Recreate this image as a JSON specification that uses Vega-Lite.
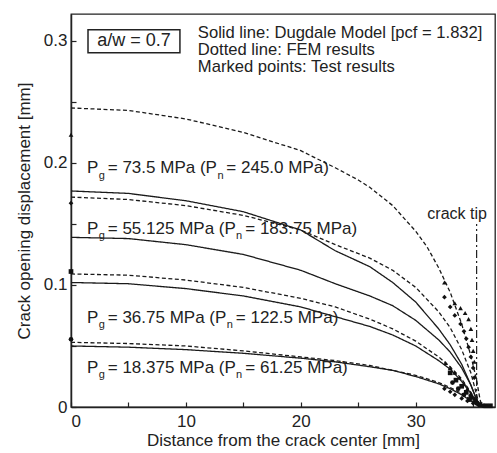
{
  "$schema": "https://vega.github.io/schema/vega-lite/v6.json",
  "width": 424,
  "height": 393,
  "autosize": {"type": "none"},
  "padding": {"left": 71, "top": 14, "right": 2, "bottom": 46},
  "background": "white",
  "view": {"stroke": "#222", "strokeWidth": 1.3},
  "config": {
    "font": "Liberation Sans",
    "axis": {
      "grid": false,
      "domainColor": "#222",
      "domainWidth": 1.5,
      "tickColor": "#222",
      "tickWidth": 1.2,
      "labelColor": "#222",
      "labelFont": "Liberation Sans",
      "labelFontSize": 17,
      "titleFont": "Liberation Sans",
      "titleFontSize": 17,
      "titleFontWeight": "normal",
      "titleColor": "#222"
    }
  },
  "datasets": {
    "curves": [
      {"s": "F73", "k": "dashed", "x": 0, "y": 0.245}, {"s": "F73", "k": "dashed", "x": 5, "y": 0.243}, {"s": "F73", "k": "dashed", "x": 10, "y": 0.236}, {"s": "F73", "k": "dashed", "x": 15, "y": 0.225}, {"s": "F73", "k": "dashed", "x": 20, "y": 0.21}, {"s": "F73", "k": "dashed", "x": 23, "y": 0.196}, {"s": "F73", "k": "dashed", "x": 25, "y": 0.186}, {"s": "F73", "k": "dashed", "x": 26, "y": 0.18}, {"s": "F73", "k": "dashed", "x": 28, "y": 0.165}, {"s": "F73", "k": "dashed", "x": 30, "y": 0.144}, {"s": "F73", "k": "dashed", "x": 31, "y": 0.131}, {"s": "F73", "k": "dashed", "x": 32, "y": 0.114}, {"s": "F73", "k": "dashed", "x": 33, "y": 0.094}, {"s": "F73", "k": "dashed", "x": 34, "y": 0.068}, {"s": "F73", "k": "dashed", "x": 34.8, "y": 0.042}, {"s": "F73", "k": "dashed", "x": 35.3, "y": 0.022}, {"s": "F73", "k": "dashed", "x": 35.6, "y": 0.006}, {"s": "F73", "k": "dashed", "x": 35.8, "y": 0},
      {"s": "D73", "k": "solid", "x": 0, "y": 0.177}, {"s": "D73", "k": "solid", "x": 5, "y": 0.175}, {"s": "D73", "k": "solid", "x": 10, "y": 0.169}, {"s": "D73", "k": "solid", "x": 15, "y": 0.16}, {"s": "D73", "k": "solid", "x": 20, "y": 0.145}, {"s": "D73", "k": "solid", "x": 23, "y": 0.128}, {"s": "D73", "k": "solid", "x": 26, "y": 0.115}, {"s": "D73", "k": "solid", "x": 28, "y": 0.102}, {"s": "D73", "k": "solid", "x": 30, "y": 0.086}, {"s": "D73", "k": "solid", "x": 32, "y": 0.064}, {"s": "D73", "k": "solid", "x": 33, "y": 0.051}, {"s": "D73", "k": "solid", "x": 34, "y": 0.035}, {"s": "D73", "k": "solid", "x": 34.8, "y": 0.018}, {"s": "D73", "k": "solid", "x": 35.3, "y": 0.006}, {"s": "D73", "k": "solid", "x": 35.6, "y": 0},
      {"s": "F55", "k": "dashed", "x": 0, "y": 0.172}, {"s": "F55", "k": "dashed", "x": 5, "y": 0.17}, {"s": "F55", "k": "dashed", "x": 10, "y": 0.165}, {"s": "F55", "k": "dashed", "x": 15, "y": 0.157}, {"s": "F55", "k": "dashed", "x": 20, "y": 0.145}, {"s": "F55", "k": "dashed", "x": 23, "y": 0.133}, {"s": "F55", "k": "dashed", "x": 26, "y": 0.122}, {"s": "F55", "k": "dashed", "x": 28, "y": 0.112}, {"s": "F55", "k": "dashed", "x": 30, "y": 0.098}, {"s": "F55", "k": "dashed", "x": 32, "y": 0.078}, {"s": "F55", "k": "dashed", "x": 33, "y": 0.065}, {"s": "F55", "k": "dashed", "x": 34, "y": 0.047}, {"s": "F55", "k": "dashed", "x": 34.8, "y": 0.028}, {"s": "F55", "k": "dashed", "x": 35.3, "y": 0.01}, {"s": "F55", "k": "dashed", "x": 35.6, "y": 0},
      {"s": "D55", "k": "solid", "x": 0, "y": 0.139}, {"s": "D55", "k": "solid", "x": 5, "y": 0.138}, {"s": "D55", "k": "solid", "x": 10, "y": 0.133}, {"s": "D55", "k": "solid", "x": 15, "y": 0.125}, {"s": "D55", "k": "solid", "x": 20, "y": 0.112}, {"s": "D55", "k": "solid", "x": 23, "y": 0.101}, {"s": "D55", "k": "solid", "x": 26, "y": 0.091}, {"s": "D55", "k": "solid", "x": 28, "y": 0.083}, {"s": "D55", "k": "solid", "x": 30, "y": 0.071}, {"s": "D55", "k": "solid", "x": 32, "y": 0.055}, {"s": "D55", "k": "solid", "x": 33, "y": 0.045}, {"s": "D55", "k": "solid", "x": 34, "y": 0.032}, {"s": "D55", "k": "solid", "x": 34.8, "y": 0.018}, {"s": "D55", "k": "solid", "x": 35.3, "y": 0.006}, {"s": "D55", "k": "solid", "x": 35.6, "y": 0},
      {"s": "F37", "k": "dashed", "x": 0, "y": 0.109}, {"s": "F37", "k": "dashed", "x": 5, "y": 0.108}, {"s": "F37", "k": "dashed", "x": 10, "y": 0.104}, {"s": "F37", "k": "dashed", "x": 15, "y": 0.098}, {"s": "F37", "k": "dashed", "x": 20, "y": 0.089}, {"s": "F37", "k": "dashed", "x": 23, "y": 0.082}, {"s": "F37", "k": "dashed", "x": 26, "y": 0.072}, {"s": "F37", "k": "dashed", "x": 28, "y": 0.064}, {"s": "F37", "k": "dashed", "x": 30, "y": 0.054}, {"s": "F37", "k": "dashed", "x": 32, "y": 0.041}, {"s": "F37", "k": "dashed", "x": 33, "y": 0.033}, {"s": "F37", "k": "dashed", "x": 34, "y": 0.023}, {"s": "F37", "k": "dashed", "x": 34.8, "y": 0.012}, {"s": "F37", "k": "dashed", "x": 35.3, "y": 0.004}, {"s": "F37", "k": "dashed", "x": 35.6, "y": 0},
      {"s": "D37", "k": "solid", "x": 0, "y": 0.102}, {"s": "D37", "k": "solid", "x": 5, "y": 0.101}, {"s": "D37", "k": "solid", "x": 10, "y": 0.097}, {"s": "D37", "k": "solid", "x": 15, "y": 0.091}, {"s": "D37", "k": "solid", "x": 20, "y": 0.082}, {"s": "D37", "k": "solid", "x": 23, "y": 0.074}, {"s": "D37", "k": "solid", "x": 26, "y": 0.066}, {"s": "D37", "k": "solid", "x": 28, "y": 0.059}, {"s": "D37", "k": "solid", "x": 30, "y": 0.05}, {"s": "D37", "k": "solid", "x": 32, "y": 0.038}, {"s": "D37", "k": "solid", "x": 33, "y": 0.031}, {"s": "D37", "k": "solid", "x": 34, "y": 0.021}, {"s": "D37", "k": "solid", "x": 34.8, "y": 0.011}, {"s": "D37", "k": "solid", "x": 35.3, "y": 0.004}, {"s": "D37", "k": "solid", "x": 35.6, "y": 0},
      {"s": "F18", "k": "dashed", "x": 0, "y": 0.053}, {"s": "F18", "k": "dashed", "x": 5, "y": 0.052}, {"s": "F18", "k": "dashed", "x": 10, "y": 0.05}, {"s": "F18", "k": "dashed", "x": 15, "y": 0.046}, {"s": "F18", "k": "dashed", "x": 20, "y": 0.041}, {"s": "F18", "k": "dashed", "x": 23, "y": 0.038}, {"s": "F18", "k": "dashed", "x": 26, "y": 0.034}, {"s": "F18", "k": "dashed", "x": 28, "y": 0.03}, {"s": "F18", "k": "dashed", "x": 30, "y": 0.026}, {"s": "F18", "k": "dashed", "x": 32, "y": 0.02}, {"s": "F18", "k": "dashed", "x": 33, "y": 0.016}, {"s": "F18", "k": "dashed", "x": 34, "y": 0.011}, {"s": "F18", "k": "dashed", "x": 34.8, "y": 0.006}, {"s": "F18", "k": "dashed", "x": 35.3, "y": 0.002}, {"s": "F18", "k": "dashed", "x": 35.6, "y": 0},
      {"s": "D18", "k": "solid", "x": 0, "y": 0.05}, {"s": "D18", "k": "solid", "x": 5, "y": 0.049}, {"s": "D18", "k": "solid", "x": 10, "y": 0.047}, {"s": "D18", "k": "solid", "x": 15, "y": 0.044}, {"s": "D18", "k": "solid", "x": 20, "y": 0.04}, {"s": "D18", "k": "solid", "x": 23, "y": 0.037}, {"s": "D18", "k": "solid", "x": 26, "y": 0.033}, {"s": "D18", "k": "solid", "x": 28, "y": 0.03}, {"s": "D18", "k": "solid", "x": 30, "y": 0.025}, {"s": "D18", "k": "solid", "x": 32, "y": 0.019}, {"s": "D18", "k": "solid", "x": 33, "y": 0.015}, {"s": "D18", "k": "solid", "x": 34, "y": 0.01}, {"s": "D18", "k": "solid", "x": 34.8, "y": 0.005}, {"s": "D18", "k": "solid", "x": 35.3, "y": 0.002}, {"s": "D18", "k": "solid", "x": 35.6, "y": 0}
    ],
    "points": [
      {"m": "tri", "x": 0, "y": 0.223}, {"m": "tri", "x": 32.5, "y": 0.102}, {"m": "tri", "x": 33.4, "y": 0.085}, {"m": "tri", "x": 33.9, "y": 0.081}, {"m": "tri", "x": 34.3, "y": 0.077}, {"m": "tri", "x": 34.6, "y": 0.072}, {"m": "tri", "x": 34.8, "y": 0.064}, {"m": "tri", "x": 34.9, "y": 0.055}, {"m": "tri", "x": 35.0, "y": 0.046}, {"m": "tri", "x": 35.1, "y": 0.037}, {"m": "tri", "x": 32.6, "y": 0.036}, {"m": "tri", "x": 33.0, "y": 0.032}, {"m": "tri", "x": 33.4, "y": 0.028}, {"m": "tri", "x": 33.8, "y": 0.024}, {"m": "tri", "x": 34.2, "y": 0.019}, {"m": "tri", "x": 34.5, "y": 0.015}, {"m": "tri", "x": 34.8, "y": 0.011}, {"m": "tri", "x": 35.1, "y": 0.007}, {"m": "tri", "x": 35.4, "y": 0.004}, {"m": "tri", "x": 35.7, "y": 0.002}, {"m": "tri", "x": 36.0, "y": 0.001}, {"m": "tri", "x": 36.3, "y": 0.001},
      {"m": "dia", "x": 0, "y": 0.167}, {"m": "dia", "x": 32.5, "y": 0.09}, {"m": "dia", "x": 33.0, "y": 0.082}, {"m": "dia", "x": 33.4, "y": 0.075}, {"m": "dia", "x": 33.9, "y": 0.068}, {"m": "dia", "x": 34.2, "y": 0.062}, {"m": "dia", "x": 34.4, "y": 0.056}, {"m": "dia", "x": 34.6, "y": 0.049}, {"m": "dia", "x": 34.8, "y": 0.041}, {"m": "dia", "x": 35.0, "y": 0.032}, {"m": "dia", "x": 35.1, "y": 0.024}, {"m": "dia", "x": 32.5, "y": 0.015}, {"m": "dia", "x": 33.0, "y": 0.0125}, {"m": "dia", "x": 33.4, "y": 0.01}, {"m": "dia", "x": 34.0, "y": 0.007}, {"m": "dia", "x": 34.5, "y": 0.005}, {"m": "dia", "x": 35.0, "y": 0.003}, {"m": "dia", "x": 35.5, "y": 0.0015},
      {"m": "sq", "x": 0, "y": 0.111}, {"m": "sq", "x": 33.0, "y": 0.028}, {"m": "sq", "x": 33.5, "y": 0.022}, {"m": "sq", "x": 34.0, "y": 0.017}, {"m": "sq", "x": 34.4, "y": 0.012}, {"m": "sq", "x": 34.8, "y": 0.008}, {"m": "sq", "x": 35.2, "y": 0.005}, {"m": "sq", "x": 35.6, "y": 0.002}, {"m": "sq", "x": 36.1, "y": 0.001}, {"m": "sq", "x": 36.5, "y": 0.001},
      {"m": "dot", "x": 0, "y": 0.0555}, {"m": "dot", "x": 33.2, "y": 0.02}, {"m": "dot", "x": 33.7, "y": 0.015}, {"m": "dot", "x": 34.2, "y": 0.01}, {"m": "dot", "x": 34.7, "y": 0.006}, {"m": "dot", "x": 35.3, "y": 0.003}, {"m": "dot", "x": 35.9, "y": 0.001}
    ],
    "labels": [
      {"t": "P\u00a0\u00a0= 73.5 MPa (P\u00a0\u00a0= 245.0 MPa)", "x": 1.39, "y": 0.1914},
      {"t": "P\u00a0\u00a0= 55.125 MPa (P\u00a0\u00a0= 183.75 MPa)", "x": 1.39, "y": 0.1418},
      {"t": "P\u00a0\u00a0= 36.75 MPa (P\u00a0\u00a0= 122.5 MPa)", "x": 1.39, "y": 0.0689},
      {"t": "P\u00a0\u00a0= 18.375 MPa (P\u00a0\u00a0= 61.25 MPa)", "x": 1.39, "y": 0.0279}
    ],
    "subs": [
      {"t": "g", "x": 2.42, "y": 0.1872},
      {"t": "n", "x": 12.74, "y": 0.1872},
      {"t": "g", "x": 2.42, "y": 0.1376},
      {"t": "n", "x": 14.37, "y": 0.1376},
      {"t": "g", "x": 2.42, "y": 0.0647},
      {"t": "n", "x": 13.56, "y": 0.0647},
      {"t": "g", "x": 2.42, "y": 0.0237},
      {"t": "n", "x": 14.37, "y": 0.0237}
    ],
    "notes": [
      {"t": "Solid line: Dugdale Model [pcf = 1.832]", "x": 11.04, "y": 0.3025},
      {"t": "Dotted line: FEM results", "x": 11.04, "y": 0.2885},
      {"t": "Marked points: Test results", "x": 11.04, "y": 0.2746}
    ]
  },
  "encoding": {
    "x": {"type": "quantitative", "scale": {"domain": [0, 36.9], "nice": false, "zero": false}},
    "y": {"type": "quantitative", "scale": {"domain": [0, 0.322], "nice": false, "zero": false}}
  },
  "layer": [
    {
      "data": {"values": [{"x0": 35.3, "y0": 0.004, "y1": 0.15}]},
      "mark": {"type": "rule", "color": "#222", "strokeWidth": 1.2, "strokeDash": [8, 3, 2, 3]},
      "encoding": {
        "x": {"field": "x0", "type": "quantitative", "axis": {"orient": "bottom", "values": [0, 5, 10, 15, 20, 25, 30, 35], "labelExpr": "datum.value % 10 === 0 ? datum.label : ''", "tickSize": -5, "labelPadding": 11, "title": "Distance from the crack center [mm]", "titlePadding": 3}},
        "y": {"field": "y0", "type": "quantitative", "axis": {"orient": "left", "values": [0, 0.05, 0.1, 0.15, 0.2, 0.25, 0.3], "labelExpr": "datum.value === 0 ? '0' : (round(datum.value * 100) % 10 === 0 ? format(datum.value, '.1f') : '')", "tickSize": -5, "labelPadding": 9, "title": "Crack opening displacement [mm]", "titlePadding": 10}},
        "y2": {"field": "y1"}
      }
    },
    {
      "data": {"name": "curves"},
      "mark": {"type": "line", "color": "#1a1a1a", "strokeWidth": 1.3, "clip": true},
      "encoding": {
        "x": {"field": "x", "type": "quantitative"},
        "y": {"field": "y", "type": "quantitative"},
        "detail": {"field": "s"},
        "strokeDash": {"field": "k", "type": "nominal", "scale": {"domain": ["solid", "dashed"], "range": [[1, 0], [4, 2.5]]}, "legend": null}
      }
    },
    {
      "data": {"name": "points"},
      "mark": {"type": "point", "filled": true, "color": "#111", "size": 22, "opacity": 1},
      "encoding": {
        "x": {"field": "x", "type": "quantitative"},
        "y": {"field": "y", "type": "quantitative"},
        "shape": {"field": "m", "type": "nominal", "scale": {"domain": ["tri", "dia", "sq", "dot"], "range": ["triangle-up", "diamond", "square", "circle"]}, "legend": null}
      }
    },
    {
      "data": {"values": [{"x1": 1.48, "x2": 9.48, "y1": 0.2902, "y2": 0.309}]},
      "mark": {"type": "rect", "fill": "white", "stroke": "#222", "strokeWidth": 1.5},
      "encoding": {
        "x": {"field": "x1", "type": "quantitative"},
        "x2": {"field": "x2"},
        "y": {"field": "y1", "type": "quantitative"},
        "y2": {"field": "y2"}
      }
    },
    {
      "data": {"values": [{"t": "a/w = 0.7", "x": 5.48, "y": 0.2996}]},
      "mark": {"type": "text", "fontSize": 18, "color": "#222", "align": "center", "baseline": "middle"},
      "encoding": {
        "x": {"field": "x", "type": "quantitative"},
        "y": {"field": "y", "type": "quantitative"},
        "text": {"field": "t"}
      }
    },
    {
      "data": {"name": "notes"},
      "mark": {"type": "text", "fontSize": 16.6, "color": "#222", "align": "left", "baseline": "alphabetic"},
      "encoding": {
        "x": {"field": "x", "type": "quantitative"},
        "y": {"field": "y", "type": "quantitative"},
        "text": {"field": "t"}
      }
    },
    {
      "data": {"values": [{"t": "crack tip", "x": 33.6, "y": 0.158}]},
      "mark": {"type": "text", "fontSize": 16, "color": "#222", "align": "center", "baseline": "middle"},
      "encoding": {
        "x": {"field": "x", "type": "quantitative"},
        "y": {"field": "y", "type": "quantitative"},
        "text": {"field": "t"}
      }
    },
    {
      "data": {"name": "labels"},
      "mark": {"type": "text", "fontSize": 17, "color": "#222", "align": "left", "baseline": "alphabetic"},
      "encoding": {
        "x": {"field": "x", "type": "quantitative"},
        "y": {"field": "y", "type": "quantitative"},
        "text": {"field": "t"}
      }
    },
    {
      "data": {"name": "subs"},
      "mark": {"type": "text", "fontSize": 11, "color": "#222", "align": "left", "baseline": "alphabetic"},
      "encoding": {
        "x": {"field": "x", "type": "quantitative"},
        "y": {"field": "y", "type": "quantitative"},
        "text": {"field": "t"}
      }
    }
  ]
}
